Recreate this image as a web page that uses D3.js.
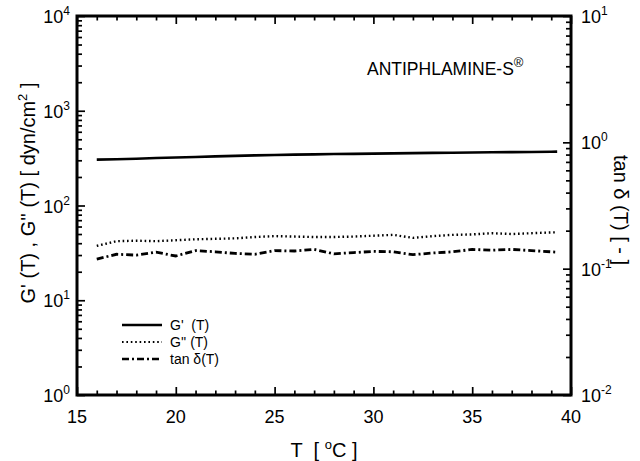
<!DOCTYPE html>
<html>
<head>
<meta charset="utf-8">
<script src="https://cdn.jsdelivr.net/npm/d3@7"></script>
<style>
  body { margin: 0; background: #fff; }
  svg { font-family: "Liberation Sans", Arial, sans-serif; }
</style>
</head>
<body>
<svg id="chart" width="640" height="461"></svg>
<script>
// temperature in degC
temps = [16,17,18,19,20,21,22,23,24,25,26,27,28,29,30,31,32,33,34,35,36,37,38,39,39.3];
// storage modulus G' [dyn/cm2]
gPrime = [305,308,312,317,321,325,330,334,338,341,344,346,349,351,353,355,357,359,361,363,365,366,367,369,370];
// loss modulus G'' [dyn/cm2]
gDouble = [37.5,42,42.5,42,43,44,44.5,45,46.5,47.5,47,46.5,46.5,47,48,49,45.5,47.5,49,49.5,51,50,51,52,52];
// tan delta [-]
tanDelta = [0.119,0.130,0.128,0.135,0.126,0.139,0.136,0.132,0.130,0.139,0.138,0.142,0.131,0.134,0.137,0.136,0.129,0.133,0.136,0.142,0.140,0.142,0.139,0.136,0.135];

xTicks = [15,20,25,30,35,40];
leftExps = [0,1,2,3,4];
rightExps = [-2,-1,0,1];

legendItems = [
    {label: "G'  (T)", dash: null},
    {label: "G'' (T)", dash: "1.6,2.8"},
    {label: "tan δ(T)", dash: "7,3,2,3"}
];

svg = d3.select("#chart");
margin = {left: 77, right: 571, top: 16, bottom: 395};

x = d3.scaleLinear().domain([15, 40]).range([margin.left, margin.right]);
yL = d3.scaleLog().domain([1, 1e4]).range([margin.bottom, margin.top]);
yR = d3.scaleLog().domain([1e-2, 10]).range([margin.bottom, margin.top]);

function logMinors(lo, hi) {
    out = [];
    for (e = lo; e < hi; e++) {
        for (k = 2; k <= 9; k++) out.push(k * Math.pow(10, e));
    }
    return out;
}

// tick marks, all pointing inward
xMinor = d3.range(15, 41, 1).filter(d => d % 5 !== 0);
svg.append("g").attr("transform", `translate(0,${margin.bottom})`)
    .call(d3.axisBottom(x).tickValues(xTicks).tickSize(-8).tickFormat(""));
svg.append("g").attr("transform", `translate(0,${margin.bottom})`)
    .call(d3.axisBottom(x).tickValues(xMinor).tickSize(-4.5).tickFormat(""));
svg.append("g").attr("transform", `translate(0,${margin.top})`)
    .call(d3.axisTop(x).tickValues(xTicks).tickSize(-8).tickFormat(""));
svg.append("g").attr("transform", `translate(0,${margin.top})`)
    .call(d3.axisTop(x).tickValues(xMinor).tickSize(-4.5).tickFormat(""));

svg.append("g").attr("transform", `translate(${margin.left},0)`)
    .call(d3.axisLeft(yL).tickValues(leftExps.map(e => Math.pow(10, e))).tickSize(-8).tickFormat(""));
svg.append("g").attr("transform", `translate(${margin.left},0)`)
    .call(d3.axisLeft(yL).tickValues(logMinors(0, 4)).tickSize(-5).tickFormat(""));
svg.append("g").attr("transform", `translate(${margin.right},0)`)
    .call(d3.axisRight(yR).tickValues(rightExps.map(e => Math.pow(10, e))).tickSize(-8).tickFormat(""));
svg.append("g").attr("transform", `translate(${margin.right},0)`)
    .call(d3.axisRight(yR).tickValues(logMinors(-2, 1)).tickSize(-5).tickFormat(""));

svg.selectAll(".domain").remove();
svg.selectAll(".tick line").attr("stroke", "#000").attr("stroke-width", 1.7);

// frame
svg.append("rect")
    .attr("x", margin.left).attr("y", margin.top)
    .attr("width", margin.right - margin.left).attr("height", margin.bottom - margin.top)
    .attr("fill", "none").attr("stroke", "#000").attr("stroke-width", 3);

// tick labels
svg.append("g").selectAll("text")
    .data(xTicks).join("text")
    .attr("x", d => x(d)).attr("y", 423)
    .attr("text-anchor", "middle").attr("font-size", 18)
    .text(d => d);

function supLabel(g, xp, yp, exp, anchor) {
    t = g.append("text").attr("x", xp).attr("y", yp + 7)
        .attr("text-anchor", anchor).attr("font-size", 18);
    t.append("tspan").text("10");
    t.append("tspan").attr("font-size", 12).attr("dy", -8).text(exp);
}
leftLab = svg.append("g");
leftExps.forEach(e => supLabel(leftLab, 70, yL(Math.pow(10, e)), e, "end"));
rightLab = svg.append("g");
rightExps.forEach(e => supLabel(rightLab, 581, yR(Math.pow(10, e)), e, "start"));

// axis titles
xt = svg.append("text").attr("x", 324).attr("y", 457)
    .attr("text-anchor", "middle").attr("font-size", 20).attr("xml:space", "preserve");
xt.append("tspan").text("T  [ ");
xt.append("tspan").attr("font-size", 13).attr("dy", -8).text("o");
xt.append("tspan").attr("dy", 8).text("C ]");

yt = svg.append("text")
    .attr("transform", "translate(35,193) rotate(-90)")
    .attr("text-anchor", "middle").attr("font-size", 20).attr("xml:space", "preserve");
yt.append("tspan").text("G' (T) , G'' (T) [ dyn/cm");
yt.append("tspan").attr("font-size", 13).attr("dy", -8).text("2");
yt.append("tspan").attr("dy", 8).text(" ]");

svg.append("text")
    .attr("transform", "translate(614,210) rotate(90)")
    .attr("text-anchor", "middle").attr("font-size", 20).attr("xml:space", "preserve")
    .text("tan δ (T) [ - ]");

// sample name
nm = svg.append("text").attr("x", 367).attr("y", 75).attr("font-size", 17.5);
nm.append("tspan").text("ANTIPHLAMINE-S");
nm.append("tspan").attr("font-size", 13).attr("dy", -8).text("®");

// curves
lineL = (vals) => d3.line().x((d, i) => x(temps[i])).y(d => yL(d))(vals);
lineR = (vals) => d3.line().x((d, i) => x(temps[i])).y(d => yR(d))(vals);

svg.append("path").attr("d", lineL(gPrime))
    .attr("fill", "none").attr("stroke", "#000").attr("stroke-width", 2.6);
svg.append("path").attr("d", lineL(gDouble))
    .attr("fill", "none").attr("stroke", "#000").attr("stroke-width", 2.4)
    .attr("stroke-dasharray", legendItems[1].dash);
svg.append("path").attr("d", lineR(tanDelta))
    .attr("fill", "none").attr("stroke", "#000").attr("stroke-width", 2.8)
    .attr("stroke-dasharray", legendItems[2].dash);

// legend
leg = svg.append("g").attr("transform", "translate(122,325)");
legRows = leg.selectAll("g").data(legendItems).join("g")
    .attr("transform", (d, i) => `translate(0,${i * 17})`);
legRows.append("line")
    .attr("x1", 0).attr("x2", 40).attr("y1", 0).attr("y2", 0)
    .attr("stroke", "#000").attr("stroke-width", d => d.dash === "1.6,2.8" ? 2.2 : 2.6)
    .attr("stroke-dasharray", d => d.dash);
legRows.append("text")
    .attr("x", 48).attr("y", 5).attr("font-size", 14).attr("xml:space", "preserve")
    .text(d => d.label);
</script>
</body>
</html>
